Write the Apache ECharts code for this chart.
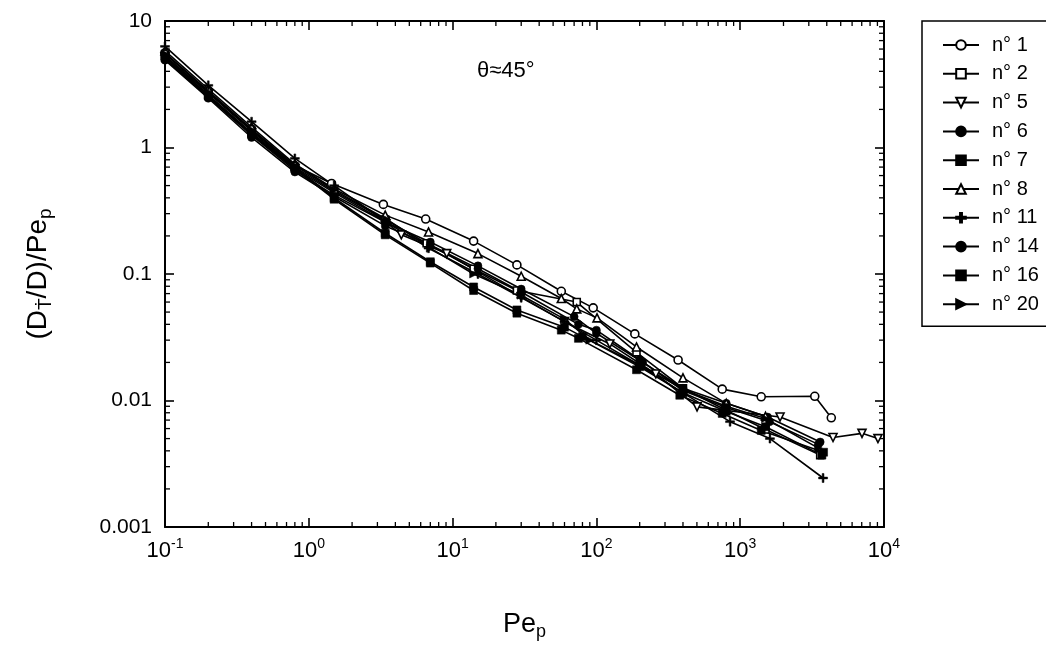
<!DOCTYPE html>
<html>
<head>
<meta charset="utf-8">
<script src="https://cdn.jsdelivr.net/npm/echarts@6/dist/echarts.min.js"></script>
<style>
html,body{margin:0;padding:0;background:#fff;}
#c{width:1046px;height:652px;}
</style>
</head>
<body>
<div id="c"></div>
<script>
// ---- data ----
const seriesNames = ['n° 1','n° 2','n° 5','n° 6','n° 7','n° 8','n° 11','n° 14','n° 16','n° 20'];

const s1x = [0.1,0.2,0.4,0.8,1.44,3.3,6.5,14,28,57,95,185,370,750,1400,3300,4300];
const s1y = [5.6,2.8,1.4,0.72,0.52,0.355,0.272,0.182,0.118,0.073,0.054,0.0336,0.0209,0.0123,0.0107,0.0108,0.0073];

const s2x = [0.1,0.2,0.4,0.8,1.5,3.4,6.6,14,28,73,190,400,780,1500,3600];
const s2y = [5.3,2.7,1.35,0.7,0.45,0.27,0.175,0.11,0.074,0.060,0.024,0.0125,0.0085,0.0059,0.0037];

const s5x = [0.1,0.2,0.4,0.8,1.5,3.4,4.4,9.1,30,60,124,259,501,1893,4420,7030,9080];
const s5y = [5.2,2.6,1.3,0.68,0.44,0.26,0.204,0.145,0.066,0.042,0.028,0.0162,0.0089,0.0074,0.0051,0.0055,0.0050];

const s6x = [0.1,0.2,0.4,0.8,1.5,3.5,7,15,30,70,100,210,400,800,1550,3600];
const s6y = [5.0,2.5,1.25,0.66,0.42,0.253,0.179,0.116,0.076,0.046,0.034,0.020,0.0125,0.0095,0.0074,0.0047];

const s7x = [0.1,0.2,0.4,0.8,1.5,3.4,7,14,28,60,80,200,400,800,1500,3700];
const s7y = [5.3,2.6,1.3,0.7,0.4,0.21,0.125,0.079,0.052,0.038,0.032,0.0185,0.0115,0.0082,0.0062,0.0037];

const s8x = [0.1,0.2,0.4,0.8,1.5,3.4,6.8,15,30,57,73,101,190,400,800,1500];
const s8y = [5.8,2.9,1.45,0.74,0.47,0.292,0.215,0.145,0.096,0.064,0.053,0.045,0.0265,0.0151,0.0095,0.0075];

const s11x = [0.1,0.2,0.4,0.8,1.5,3.4,6.8,15,30,60,100,200,400,850,1610,3770];
const s11y = [6.3,3.1,1.6,0.82,0.5,0.26,0.16,0.1,0.065,0.042,0.030,0.019,0.0115,0.0068,0.0050,0.00244];

const s14x = [0.1,0.2,0.4,0.8,1.5,3.4,7,15,30,75,100,200,400,800,1600,3500];
const s14y = [4.9,2.45,1.2,0.64,0.41,0.24,0.17,0.11,0.072,0.040,0.036,0.021,0.012,0.0088,0.0068,0.0045];

const s16x = [0.1,0.2,0.4,0.8,1.5,3.4,7,14,28,57,75,190,380,750,1400,3800];
const s16y = [5.1,2.55,1.27,0.68,0.39,0.204,0.122,0.074,0.049,0.036,0.031,0.0175,0.011,0.0079,0.0058,0.0039];

const s20x = [0.1,0.2,0.4,0.8,1.5,3.5,7,14,30,60,90,200,420,800,1500,3500];
const s20y = [5.5,2.75,1.38,0.72,0.46,0.27,0.16,0.1,0.068,0.044,0.030,0.019,0.012,0.009,0.0072,0.0042];

const xTickExps = ['-1','0','1','2','3','4'];
const yTickLabels = ['0.001','0.01','0.1','1','10'];
const minorMults = [2,3,4,5,6,7,8,9];
const xDecades = [0.1,1,10,100,1000];
const yDecades = [0.001,0.01,0.1,1];
const annotation = 'θ≈45°';

// ---- build ----
const FONT = '"Liberation Sans", Arial, "DejaVu Sans", sans-serif';
const allX = [s1x,s2x,s5x,s6x,s7x,s8x,s11x,s14x,s16x,s20x];
const allY = [s1y,s2y,s5y,s6y,s7y,s8y,s11y,s14y,s16y,s20y];
const PLUS = 'path://M4,0H6V4H10V6H6V10H4V6H0V4H4Z';
const RTRI = 'path://M0,0L10,5L0,10Z';
const styles = [
  {symbol:'circle', hollow:true, size:8},
  {symbol:'rect', hollow:true, size:7},
  {symbol:'triangle', hollow:true, size:8, rotate:180},
  {symbol:'circle', hollow:false, size:8},
  {symbol:'rect', hollow:false, size:8},
  {symbol:'triangle', hollow:true, size:8},
  {symbol:PLUS, hollow:false, size:9},
  {symbol:'circle', hollow:false, size:8},
  {symbol:'rect', hollow:false, size:8},
  {symbol:RTRI, hollow:false, size:8}
];

const series = seriesNames.map((name, i) => {
  const st = styles[i];
  return {
    type:'line', name: name, xAxisIndex:0, yAxisIndex:0,
    data: allX[i].map((x, j) => [x, allY[i][j]]),
    symbol: st.symbol, symbolSize: st.size, symbolRotate: st.rotate || 0,
    showAllSymbol: true,
    lineStyle:{color:'#000', width:1.6},
    itemStyle:{color: st.hollow ? '#fff' : '#000', borderColor:'#000', borderWidth: st.hollow ? 1.6 : 0.5},
    emphasis:{disabled:true},
    z: 3
  };
});

// minor ticks drawn through the axes' own scales
const xMinor = [];
xDecades.forEach(d => minorMults.forEach(m => xMinor.push(d*m)));
const yMinor = [];
yDecades.forEach(d => minorMults.forEach(m => yMinor.push(d*m)));

series.push({
  type:'custom', xAxisIndex:0, yAxisIndex:0, silent:true, clip:false,
  data: xMinor.map(v => [v, 1]),
  renderItem: (params, api) => {
    const v = api.value(0);
    const b = api.coord([v, 0.001]);
    const t = api.coord([v, 10]);
    return {type:'group', children:[
      {type:'line', shape:{x1:b[0], y1:b[1], x2:b[0], y2:b[1]-5}, style:{stroke:'#000', lineWidth:1.3}},
      {type:'line', shape:{x1:t[0], y1:t[1], x2:t[0], y2:t[1]+5}, style:{stroke:'#000', lineWidth:1.3}}
    ]};
  }
});
series.push({
  type:'custom', xAxisIndex:0, yAxisIndex:0, silent:true, clip:false,
  data: yMinor.map(v => [1, v]),
  renderItem: (params, api) => {
    const v = api.value(1);
    const l = api.coord([0.1, v]);
    const r = api.coord([10000, v]);
    return {type:'group', children:[
      {type:'line', shape:{x1:l[0], y1:l[1], x2:l[0]+5, y2:l[1]}, style:{stroke:'#000', lineWidth:1.3}},
      {type:'line', shape:{x1:r[0], y1:r[1], x2:r[0]-5, y2:r[1]}, style:{stroke:'#000', lineWidth:1.3}}
    ]};
  }
});

const axisLineStyle = {show:true, lineStyle:{color:'#000', width:2}};
const majorTick = {show:true, inside:true, length:9, lineStyle:{color:'#000', width:1.6}};

const option = {
  backgroundColor:'#fff',
  animation:false,
  textStyle:{fontFamily:FONT},
  grid:{left:165, top:21, right:162, bottom:125, containLabel:false, outerBoundsMode:'none'},
  graphic:[{type:'text', left:477, top:60, style:{text:annotation, font:'22px ' + FONT, fill:'#000'}}],
  legend:{
    orient:'vertical', left:922, top:21,
    padding:[14, 80, 12, 20], itemGap:8.8, itemWidth:36, itemHeight:12,
    borderColor:'#000', borderWidth:1.5,
    textStyle:{fontSize:20, color:'#000', fontFamily:FONT, padding:[0,0,0,8]},
    data: seriesNames
  },
  xAxis:[
    {type:'log', logBase:10, min:0.1, max:10000, position:'bottom',
     axisLine:axisLineStyle, axisTick:majorTick, splitLine:{show:false},
     axisLabel:{margin:10, color:'#000',
       formatter:(v)=>{const i=Math.round(Math.log10(v))+1; return '{b|10}{s|'+xTickExps[i]+'}';},
       rich:{b:{fontSize:22, fontFamily:FONT, color:'#000'}, s:{fontSize:14, fontFamily:FONT, color:'#000', verticalAlign:'top', padding:[0,0,13,0]}}},
     name:'Pe{s|p}', nameLocation:'middle', nameGap:82,
     nameTextStyle:{fontSize:27, color:'#000', fontFamily:FONT,
       rich:{s:{fontSize:18, fontFamily:FONT, color:'#000', padding:[14,0,0,0]}}}},
    {type:'log', logBase:10, min:0.1, max:10000, position:'top',
     axisLine:axisLineStyle, axisTick:majorTick, axisLabel:{show:false}, splitLine:{show:false}}
  ],
  yAxis:[
    {type:'log', logBase:10, min:0.001, max:10, interval:1, position:'left',
     axisLine:axisLineStyle, axisTick:majorTick, splitLine:{show:false},
     axisLabel:{margin:13, color:'#000', fontSize:21, fontFamily:FONT,
       formatter:(v)=>{const i=Math.round(Math.log10(v))+3; return yTickLabels[i];}},
     name:'(D{s|Ṫ}/D)/Pe{s|p}', nameLocation:'middle', nameGap:110, nameRotate:90,
     nameTextStyle:{fontSize:28, color:'#000', fontFamily:FONT,
       rich:{s:{fontSize:19, fontFamily:FONT, color:'#000', padding:[15,0,0,0]}}}},
    {type:'log', logBase:10, min:0.001, max:10, interval:1, position:'right',
     axisLine:axisLineStyle, axisTick:majorTick, axisLabel:{show:false}, splitLine:{show:false}}
  ],
  series: series
};

const chart = echarts.init(document.getElementById('c'), null, {renderer:'canvas'});
chart.setOption(option);
</script>
</body>
</html>
